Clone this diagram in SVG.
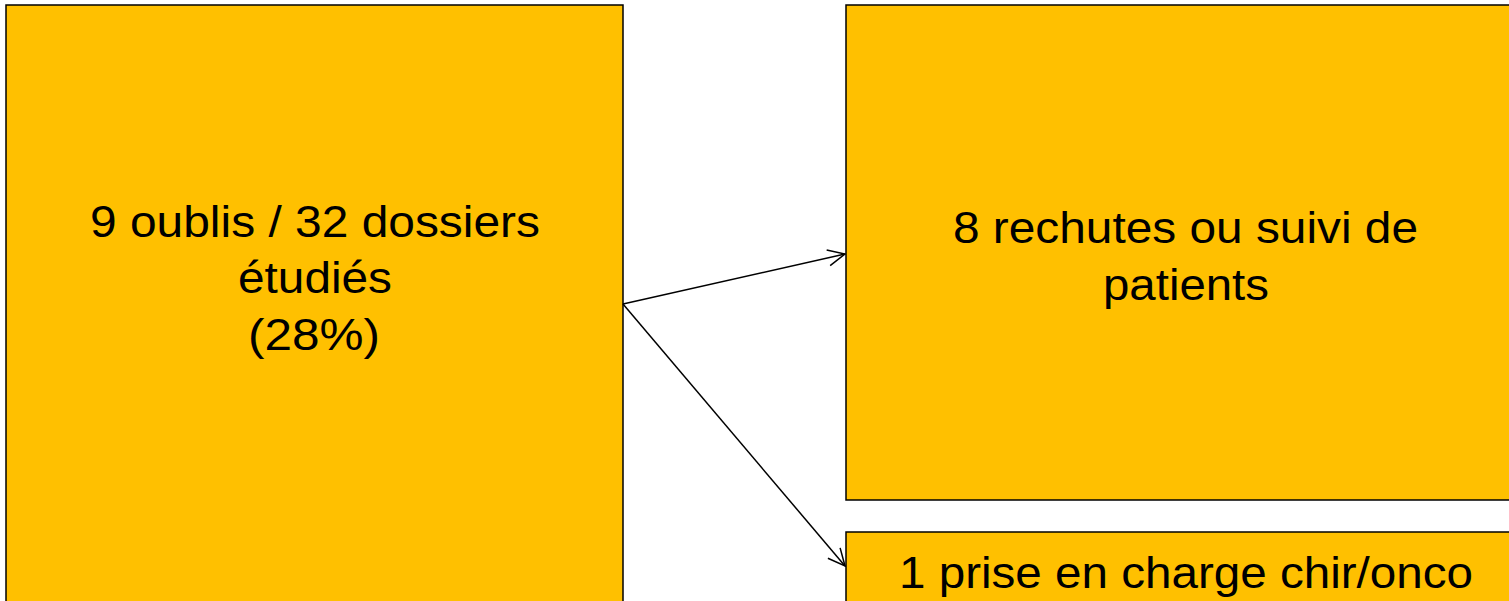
<svg xmlns="http://www.w3.org/2000/svg" width="1509" height="601" viewBox="0 0 1509 601">
<defs>
<style>
.box{fill:#FFC000;stroke:#000;stroke-width:1.5}
.t{font-family:"Liberation Sans",Arial,sans-serif;font-size:45px;fill:#000;text-anchor:middle}
.c{stroke:#000;stroke-width:1.5;fill:none}
</style>
<marker id="arr" viewBox="0 0 20 20" refX="19" refY="10" markerWidth="20" markerHeight="20" markerUnits="userSpaceOnUse" orient="auto">
<path d="M2,2 L19,10 L2,18" fill="none" stroke="#000" stroke-width="1.5"/>
</marker>
</defs>
<rect width="1509" height="601" fill="#fff"/>
<g id="node-left">
<rect class="box" x="6" y="5" width="617" height="620"/>
<text class="t" x="315" y="237" textLength="450" lengthAdjust="spacingAndGlyphs">9 oublis / 32 dossiers</text>
<text class="t" x="315" y="293" textLength="154" lengthAdjust="spacingAndGlyphs">étudiés</text>
<text class="t" x="314" y="350" textLength="132" lengthAdjust="spacingAndGlyphs">(28%)</text>
</g>
<g id="node-right-top">
<rect class="box" x="846" y="5" width="680" height="495"/>
<text class="t" x="1185.5" y="243" textLength="465" lengthAdjust="spacingAndGlyphs">8 rechutes ou suivi de</text>
<text class="t" x="1186" y="300" textLength="166" lengthAdjust="spacingAndGlyphs">patients</text>
</g>
<g id="node-right-bottom">
<rect class="box" x="846" y="532" width="680" height="100"/>
<text class="t" x="1186" y="588" textLength="574" lengthAdjust="spacingAndGlyphs">1 prise en charge chir/onco</text>
</g>
<g id="connectors">
<line class="c" x1="623" y1="304" x2="845" y2="254" marker-end="url(#arr)"/>
<line class="c" x1="623" y1="304" x2="845" y2="566" marker-end="url(#arr)"/>
</g>
</svg>
